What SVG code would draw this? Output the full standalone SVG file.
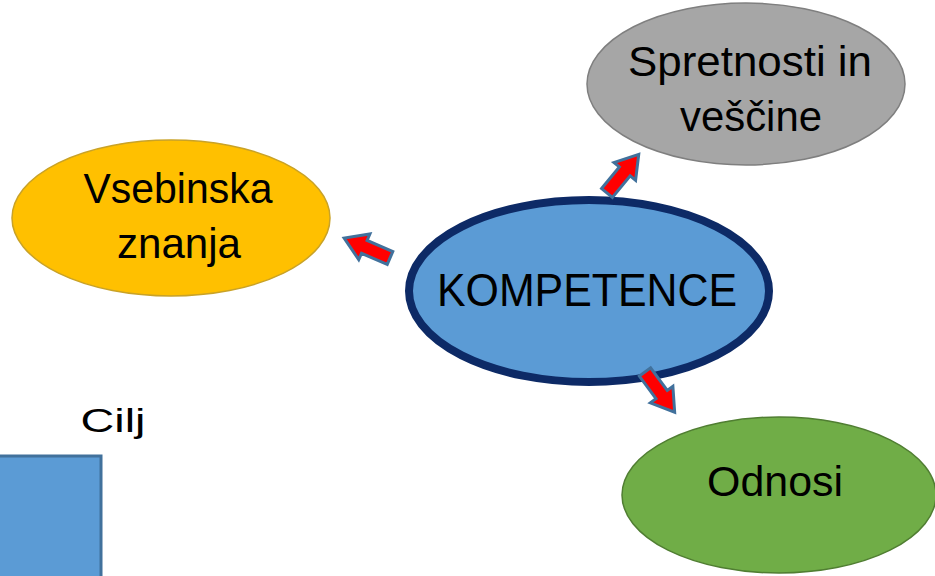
<svg xmlns="http://www.w3.org/2000/svg" width="935" height="576" viewBox="0 0 935 576">
<defs>
<style>
.t{font-family:"Liberation Sans",Arial,sans-serif;fill:#000;text-anchor:middle}
.arr{fill:#ff0000;stroke:#41719c;stroke-width:3;stroke-linejoin:miter}
</style>
<path id="ba" d="M0,-7 L28,-7 L28,-14 L50,0 L28,14 L28,7 L0,7 Z"/>
</defs>
<rect width="935" height="576" fill="#fff"/>
<g id="cilj-box">
<rect x="-10" y="456" width="111" height="130" fill="#5b9bd5" stroke="#41719c" stroke-width="3"/>
</g>
<g id="cilj-label">
<text class="t" x="113" y="432" font-size="33" textLength="65" lengthAdjust="spacingAndGlyphs">Cilj</text>
</g>
<g id="vsebinska">
<ellipse cx="171" cy="218" rx="159" ry="78" fill="#ffc000" stroke="#c9a227" stroke-width="1.5"/>
<text class="t" x="178" y="203" font-size="43" textLength="189" lengthAdjust="spacingAndGlyphs">Vsebinska</text>
<text class="t" x="179" y="258" font-size="43" textLength="124" lengthAdjust="spacingAndGlyphs">znanja</text>
</g>
<g id="spretnosti">
<ellipse cx="746" cy="84" rx="159" ry="81" fill="#a6a6a6" stroke="#7f7f7f" stroke-width="1.5"/>
<text class="t" x="750" y="76" font-size="43" textLength="244" lengthAdjust="spacingAndGlyphs">Spretnosti in</text>
<text class="t" x="751" y="131" font-size="43" textLength="142" lengthAdjust="spacingAndGlyphs">veščine</text>
</g>
<g id="odnosi">
<ellipse cx="779" cy="495" rx="157" ry="78" fill="#70ad47" stroke="#507e32" stroke-width="1.5"/>
<text class="t" x="775" y="496" font-size="43" textLength="136" lengthAdjust="spacingAndGlyphs">Odnosi</text>
</g>
<g id="kompetence">
<ellipse cx="589" cy="291" rx="180" ry="91" fill="#5b9bd5" stroke="#0d2a66" stroke-width="8"/>
<text class="t" x="587" y="306" font-size="47" textLength="300" lengthAdjust="spacingAndGlyphs">KOMPETENCE</text>
</g>
<g id="connectors">
<use href="#ba" class="arr" transform="translate(390,258) rotate(203.5)"/>
<use href="#ba" class="arr" transform="translate(607,193) rotate(-50.6)"/>
<use href="#ba" class="arr" transform="translate(645,372) rotate(53.6)"/>
</g>
</svg>
